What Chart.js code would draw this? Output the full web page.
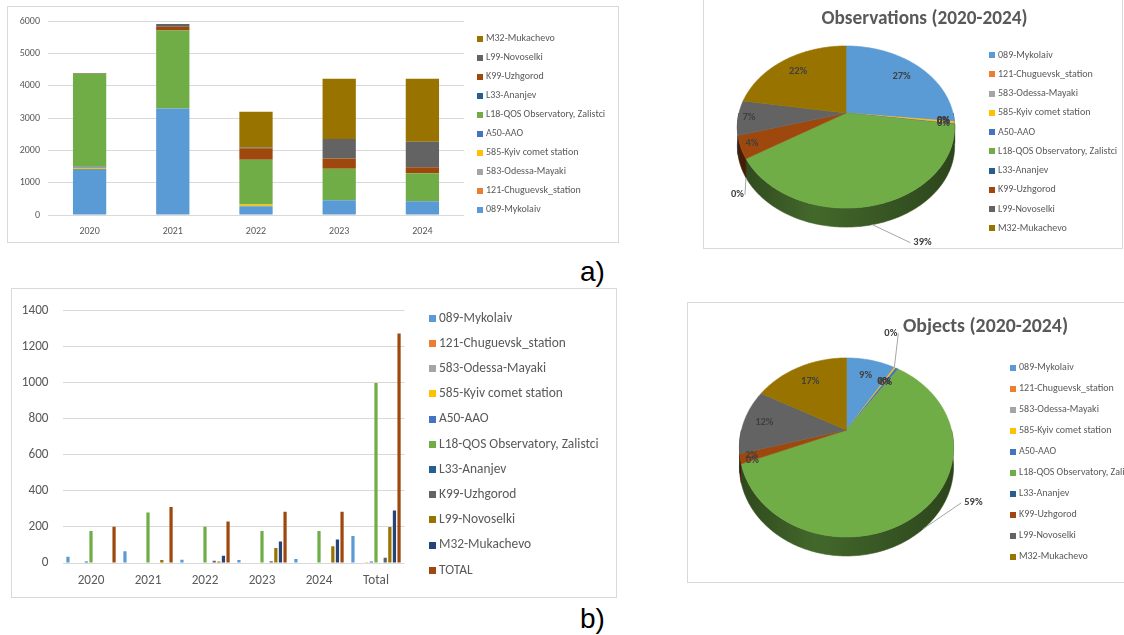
<!DOCTYPE html>
<html>
<head>
<meta charset="utf-8">
<script src="https://cdn.jsdelivr.net/npm/chart.js@4.4.1/dist/chart.umd.min.js"></script>
<style>
  html, body { margin: 0; padding: 0; background: #fff; }
  body { position: relative; width: 1124px; height: 635px; overflow: hidden; font-family: 'Liberation Sans', Arial, sans-serif; }
  .frame { position: absolute; border: 1px solid #d9d9d9; box-sizing: border-box; }
  canvas { position: absolute; }
  .tag { position: absolute; font-size: 28px; line-height: 28px; color: #000; font-family: 'Liberation Sans', Arial, sans-serif; }
</style>
</head>
<body>
<div class="frame" style="left:7px;top:6px;width:612px;height:237px"></div>
<div class="frame" style="left:11px;top:288px;width:606px;height:310px"></div>
<div class="frame" style="left:703px;top:-2px;width:420px;height:251px"></div>
<div class="frame" style="left:687px;top:302px;width:450px;height:281px"></div>

<canvas id="obsBars" width="610" height="235" style="left:8px;top:7px"></canvas>
<canvas id="objBars" width="604" height="308" style="left:12px;top:289px"></canvas>
<canvas id="obsPie" width="421" height="250" style="left:703px;top:0px"></canvas>
<canvas id="objPie" width="436" height="279" style="left:688px;top:303px"></canvas>

<div class="tag" style="left:580px;top:258px">a)</div>
<div class="tag" style="left:580px;top:605px">b)</div>

<script>
// ---- categories ----
const years = ['2020', '2021', '2022', '2023', '2024'];
const groups = ['2020', '2021', '2022', '2023', '2024', 'Total'];
const stations = ['089-Mykolaiv', '121-Chuguevsk_station', '583-Odessa-Mayaki', '585-Kyiv comet station',
  'A50-AAO', 'L18-QOS Observatory, Zalistci', 'L33-Ananjev', 'K99-Uzhgorod', 'L99-Novoselki', 'M32-Mukachevo'];

// ---- observations per station and year ----
const obs089 = [1420, 3290, 268, 453, 422];
const obs121 = [0, 0, 0, 0, 0];
const obs583 = [0, 0, 0, 0, 0];
const obs585 = [40, 0, 60, 0, 0];
const obsA50 = [30, 0, 0, 0, 0];
const obsL18 = [2880, 2420, 1377, 977, 873];
const obsL33 = [0, 0, 0, 0, 0];
const obsK99 = [5, 110, 360, 320, 180];
const obsL99 = [20, 90, 20, 597, 791];
const obsM32 = [0, 0, 1110, 1868, 1951];

// ---- objects per station: yearly values, then the whole period ----
const obj089 = [35, 65, 18, 16, 22, 150];
const obj121 = [0, 0, 0, 0, 0, 0];
const obj583 = [0, 0, 0, 0, 0, 0];
const obj585 = [0, 0, 0, 0, 0, 5];
const objA50 = [8, 0, 0, 0, 0, 8];
const objL18 = [178, 280, 202, 178, 178, 1000];
const objL33 = [0, 0, 0, 0, 0, 0];
const objK99 = [0, 0, 12, 10, 0, 29];
const objL99 = [0, 16, 8, 84, 93, 200];
const objM32 = [0, 0, 40, 120, 131, 292];
const objTotal = [202, 311, 230, 284, 284, 1275];

// ---- tick labels ----
const obsTicks = [0, 1000, 2000, 3000, 4000, 5000, 6000];
const objTicks = [0, 200, 400, 600, 800, 1000, 1200, 1400];

// ---- colours ----
const stationColors = ['#5B9BD5', '#ED7D31', '#A5A5A5', '#FFC000', '#4472C4', '#70AD47', '#255E91', '#9E480E', '#636363', '#997300'];
const objBarColors = ['#5B9BD5', '#ED7D31', '#A5A5A5', '#FFC000', '#4472C4', '#70AD47', '#255E91', '#636363', '#997300', '#264478', '#9E480E'];

const obsSeries = [obs089, obs121, obs583, obs585, obsA50, obsL18, obsL33, obsK99, obsL99, obsM32];
const objSeries = [obj089, obj121, obj583, obj585, objA50, objL18, objL33, objK99, objL99, objM32];
const objBarLabels = stations.concat(['TOTAL']);
const objBarSeries = objSeries.concat([objTotal]);

// pie tables: whole-period sums of the observations, and the "Total" column of objects
const obsShares = obsSeries.map(s => s.reduce((a, b) => a + b, 0));
const objShares = objSeries.map(s => s[s.length - 1]);

const FONT = "Carlito, Lato, 'Liberation Sans', sans-serif";
const TEXT = '#595959';
Chart.defaults.font.family = FONT;
Chart.defaults.color = TEXT;
Chart.defaults.animation = false;

function shade(hex, f) {
  const n = parseInt(hex.slice(1), 16);
  const r = (n >> 16) & 255, g = (n >> 8) & 255, b = n & 255;
  return 'rgb(' + Math.round(r * f) + ',' + Math.round(g * f) + ',' + Math.round(b * f) + ')';
}

// legend drawn as a vertical list at a fixed place in the canvas
function makeLegend(st) {
  return {
    id: 'sideLegend',
    afterDraw(chart) {
      const ctx = chart.ctx;
      let items;
      if (st.fromLabels) {
        const ds = chart.data.datasets[0];
        items = chart.data.labels.map((t, i) => ({ text: t, color: ds.backgroundColor[i] }));
      } else {
        items = chart.data.datasets.map(d => ({ text: d.label, color: d.backgroundColor }));
      }
      if (st.reverse) items.reverse();
      ctx.save();
      ctx.font = st.size + 'px ' + FONT;
      ctx.textBaseline = 'middle';
      ctx.textAlign = 'left';
      items.forEach((it, i) => {
        const y = st.y + i * st.step;
        ctx.fillStyle = it.color;
        ctx.fillRect(st.x, Math.round(y - st.box / 2), st.box, st.box);
        ctx.fillStyle = TEXT;
        ctx.fillText(it.text, st.x + st.box + st.gap, y);
      });
      ctx.restore();
    }
  };
}

// pie drawn as a tilted disc with a visible rim, using the arcs laid out by Chart.js
function makePie3d(st) {
  function geom(arc) {
    const cx = arc.x, cy = arc.y, rx = arc.outerRadius, ry = rx * st.tilt, p = st.persp;
    return {
      cx, cy, rx,
      pt(a, r) {
        const u = Math.cos(a), v = Math.sin(a);
        const f = 1 / (1 - p * v * r);
        return [cx + rx * r * u * f, cy + ry * r * v * f];
      }
    };
  }
  function trace(ctx, g, a, b, r, dy, rev, first) {
    const n = Math.max(2, Math.ceil((b - a) / 0.015));
    for (let k = 0; k <= n; k++) {
      const t = rev ? b - (b - a) * k / n : a + (b - a) * k / n;
      const q = g.pt(t, r);
      if (first && k === 0) ctx.moveTo(q[0], q[1] + dy); else ctx.lineTo(q[0], q[1] + dy);
    }
  }
  return {
    id: 'pie3d',
    beforeDatasetDraw(chart, args) {
      const arcs = chart.getDatasetMeta(args.index).data;
      const colors = chart.data.datasets[args.index].backgroundColor;
      const ctx = chart.ctx;
      const g = geom(arcs[0]);
      ctx.save();
      // rim
      arcs.forEach((arc, i) => {
        const a = Math.max(arc.startAngle, 0), b = Math.min(arc.endAngle, Math.PI);
        if (b <= a) return;
        ctx.beginPath();
        trace(ctx, g, a, b, 1, 0, false, true);
        trace(ctx, g, a, b, 1, st.depth, true, false);
        ctx.closePath();
        const grad = ctx.createLinearGradient(g.cx - g.rx, 0, g.cx + g.rx, 0);
        grad.addColorStop(0, shade(colors[i], 0.42));
        grad.addColorStop(0.35, shade(colors[i], 0.6));
        grad.addColorStop(1, shade(colors[i], 0.4));
        ctx.fillStyle = grad;
        ctx.strokeStyle = grad;
        ctx.lineWidth = 0.6;
        ctx.fill();
        ctx.stroke();
      });
      // top faces
      arcs.forEach((arc, i) => {
        const a = arc.startAngle, b = arc.endAngle;
        if (b - a <= 0) return;
        ctx.beginPath();
        ctx.moveTo(g.cx, g.cy);
        trace(ctx, g, a, b, 1, 0, false, false);
        ctx.closePath();
        ctx.fillStyle = colors[i];
        ctx.strokeStyle = colors[i];
        ctx.lineWidth = 0.6;
        ctx.fill();
        ctx.stroke();
      });
      ctx.restore();
      return false;
    },
    afterDatasetsDraw(chart) {
      const arcs = chart.getDatasetMeta(0).data;
      const data = chart.data.datasets[0].data;
      const total = data.reduce((a, b) => a + b, 0);
      const ctx = chart.ctx;
      const g = geom(arcs[0]);
      ctx.save();
      ctx.font = 'bold ' + st.labelSize + 'px ' + FONT;
      ctx.fillStyle = '#404040';
      ctx.textBaseline = 'middle';
      arcs.forEach((arc, i) => {
        const text = Math.round(data[i] / total * 100) + '%';
        const mid = (arc.startAngle + arc.endAngle) / 2;
        const lead = st.leaders[i];
        if (lead) {
          const q = g.pt(mid, 1);
          const x0 = q[0], y0 = q[1] + (lead.rim ? st.depth : 0);
          const x1 = x0 + lead.dx, y1 = y0 + lead.dy;
          ctx.strokeStyle = '#a6a6a6';
          ctx.lineWidth = 1;
          ctx.beginPath();
          ctx.moveTo(x0, y0);
          ctx.lineTo(x1, y1);
          ctx.stroke();
          ctx.textAlign = lead.align;
          ctx.fillText(text, x1 + (lead.align === 'left' ? 3 : -1), y1 + (lead.ty || 0));
        } else {
          const q = g.pt(mid, st.labelR[i]);
          ctx.textAlign = 'center';
          ctx.fillText(text, q[0], q[1]);
        }
      });
      ctx.font = 'bold ' + st.titleSize + 'px ' + FONT;
      ctx.fillStyle = TEXT;
      ctx.textAlign = 'center';
      ctx.fillText(st.title, st.titleX, st.titleY);
      ctx.restore();
    }
  };
}

const plainTick = v => String(v);

// ---- a) observations, stacked by station ----
new Chart(document.getElementById('obsBars'), {
  type: 'bar',
  data: {
    labels: years,
    datasets: stations.map((s, i) => ({
      label: s, data: obsSeries[i], backgroundColor: stationColors[i],
      borderWidth: 0, barPercentage: 0.4, categoryPercentage: 1
    }))
  },
  options: {
    responsive: false,
    layout: { padding: { left: 0, right: 154, top: 13, bottom: 0 } },
    plugins: { legend: { display: false }, tooltip: { enabled: false } },
    scales: {
      x: {
        stacked: true,
        grid: { display: false, drawTicks: false },
        border: { display: false },
        ticks: { font: { size: 10 }, padding: 10 },
        afterFit(s) { s.height = 27; }
      },
      y: {
        stacked: true, min: obsTicks[0], max: obsTicks[obsTicks.length - 1],
        afterBuildTicks(s) { s.ticks = obsTicks.map(v => ({ value: v })); },
        grid: { color: '#d9d9d9', drawTicks: false },
        border: { display: false },
        ticks: { font: { size: 10 }, padding: 8, callback: plainTick },
        afterFit(s) { s.width = 40; }
      }
    }
  },
  plugins: [makeLegend({ x: 469, y: 31.7, step: 19, box: 6, gap: 3, size: 10, reverse: true })]
});

// ---- b) objects, grouped by station ----
new Chart(document.getElementById('objBars'), {
  type: 'bar',
  data: {
    labels: groups,
    datasets: objBarLabels.map((s, i) => ({
      label: s, data: objBarSeries[i], backgroundColor: objBarColors[i],
      borderWidth: 0, barPercentage: 0.7, categoryPercentage: 0.89
    }))
  },
  options: {
    responsive: false,
    layout: { padding: { left: 0, right: 211.5, top: 17.7, bottom: 0 } },
    plugins: { legend: { display: false }, tooltip: { enabled: false } },
    scales: {
      x: {
        grid: { display: false, drawTicks: false },
        border: { display: false },
        ticks: { font: { size: 13.2 }, padding: 10 },
        afterFit(s) { s.height = 34; }
      },
      y: {
        min: objTicks[0], max: objTicks[objTicks.length - 1],
        afterBuildTicks(s) { s.ticks = objTicks.map(v => ({ value: v })); },
        grid: { color: '#d9d9d9', drawTicks: false },
        border: { display: false },
        ticks: { font: { size: 13.2 }, padding: 14, callback: plainTick },
        afterFit(s) { s.width = 50.5; }
      }
    }
  },
  plugins: [makeLegend({ x: 417, y: 29.3, step: 25.2, box: 7, gap: 3, size: 13.4 })]
});

// ---- observations share per station ----
new Chart(document.getElementById('obsPie'), {
  type: 'pie',
  data: {
    labels: stations,
    datasets: [{ data: obsShares, backgroundColor: stationColors, borderWidth: 0, offset: 0 }]
  },
  options: {
    responsive: false,
    layout: { padding: { left: 36, right: 171, top: 6, bottom: 30 } },
    plugins: { legend: { display: false }, tooltip: { enabled: false } }
  },
  plugins: [
    makePie3d({
      tilt: 0.735, persp: 0.173, depth: 19, labelSize: 10.5, titleSize: 19.3,
      title: 'Observations (2020-2024)', titleX: 221.5, titleY: 19,
      labelR: [0.76, 0.9, 0.9, 0.9, 0.9, 0.76, 0.9, 0.9, 0.9, 0.76],
      leaders: {
        5: { rim: true, dx: 38, dy: 18, align: 'left' },
        6: { rim: true, dx: -1, dy: 17, align: 'right' }
      }
    }),
    makeLegend({ x: 286, y: 55, step: 19.26, box: 6, gap: 3, size: 10, fromLabels: true })
  ]
});

// ---- objects share per station ----
new Chart(document.getElementById('objPie'), {
  type: 'pie',
  data: {
    labels: stations,
    datasets: [{ data: objShares, backgroundColor: stationColors, borderWidth: 0, offset: 0 }]
  },
  options: {
    responsive: false,
    layout: { padding: { left: 53.5, right: 172.5, top: 22, bottom: 47 } },
    plugins: { legend: { display: false }, tooltip: { enabled: false } }
  },
  plugins: [
    makePie3d({
      tilt: 0.82, persp: 0.195, depth: 19, labelSize: 10.5, titleSize: 19.8,
      title: 'Objects (2020-2024)', titleX: 297.5, titleY: 24,
      labelR: [0.75, 0.75, 0.75, 0.75, 0.75, 0.75, 0.9, 0.9, 0.8, 0.75],
      leaders: {
        1: { rim: false, dx: 4, dy: -34, align: 'right' },
        5: { rim: true, dx: 38, dy: -26, align: 'left' }
      }
    }),
    makeLegend({ x: 322, y: 64.7, step: 21, box: 6, gap: 3, size: 10, fromLabels: true })
  ]
});
</script>
</body>
</html>
